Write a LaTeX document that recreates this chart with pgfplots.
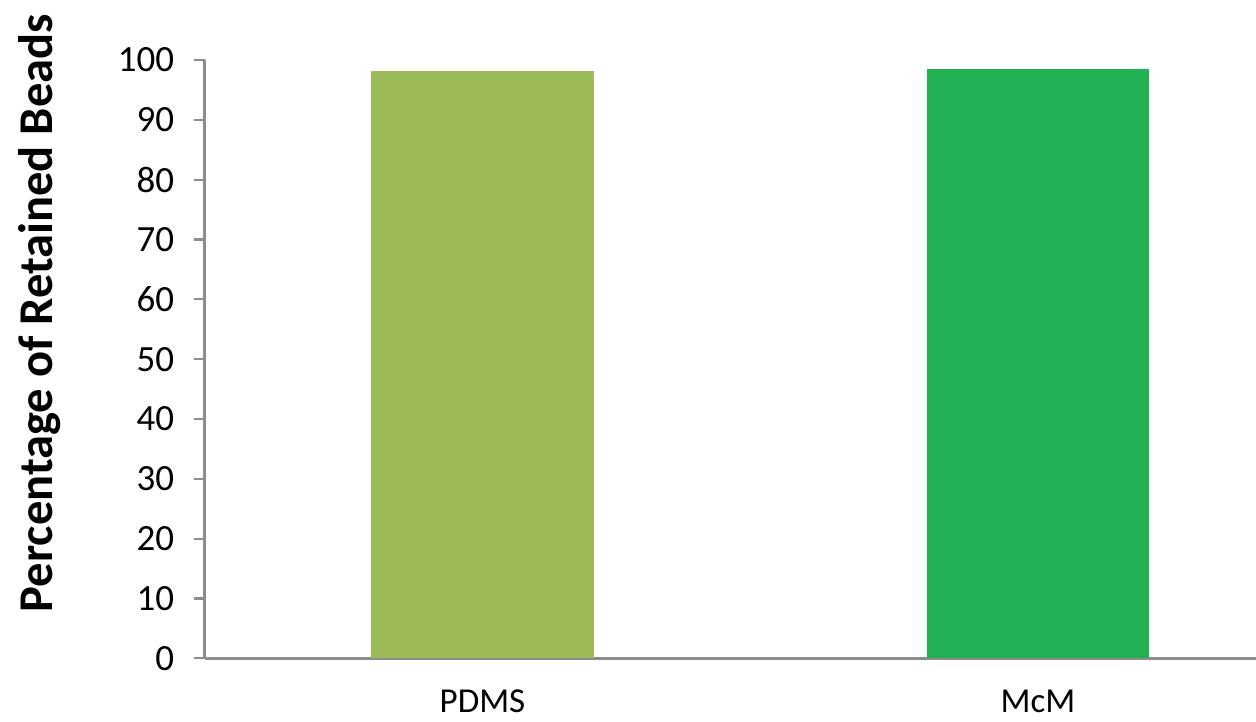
\documentclass[border=0pt]{standalone}
\usepackage{pgfplots}
\pgfplotsset{compat=1.18}
\usepackage{fontspec}
\setmainfont{Carlito}
\definecolor{pdms}{HTML}{9BBB59}
\definecolor{mcm}{HTML}{21B052}
\definecolor{axgray}{HTML}{8C8C8C}
\begin{document}
\begin{tikzpicture}
\useasboundingbox (0,0) rectangle (1256pt,721pt);
\begin{axis}[
  at={(204.75pt,62.7pt)}, anchor=south west,
  scale only axis,
  width=1051.25pt, height=598.3pt,
  xmin=-0.5, xmax=1.3925,
  ymin=0, ymax=100,
  axis lines*=left,
  axis line style={axgray, line width=2.6pt},
  every tick/.style={axgray, line width=2.2pt},
  tick align=outside,
  ytick={0,10,...,100},
  major tick length=11pt,
  xtick={0,1},
  xticklabels={PDMS,McM},
  x tick style={draw=none},
  minor xtick={-0.5,0.5,1.5},
  minor x tick style={axgray, line width=2.2pt},
  minor tick length=11pt,
  /pgf/number format/assume math mode=true,
  tick label style={font=\fontsize{37}{37}\selectfont, text=black},
  xticklabel style={font=\fontsize{35}{35}\selectfont, anchor=center, yshift=-32pt},
  yticklabel style={anchor=east, xshift=-16pt},
  ylabel={Percentage of Retained Beads},
  ylabel style={at={(axis description cs:-0.1567,0.577)}, anchor=center, font=\fontsize{48.5}{48.5}\selectfont\bfseries},
  ybar, bar width=0.4,
  clip=false,
]
\addplot[fill=pdms, draw=none, bar shift=0pt] coordinates {(0,98.2)};
\addplot[fill=mcm, draw=none, bar shift=0pt] coordinates {(1,98.5)};
\end{axis}
\end{tikzpicture}
\end{document}
